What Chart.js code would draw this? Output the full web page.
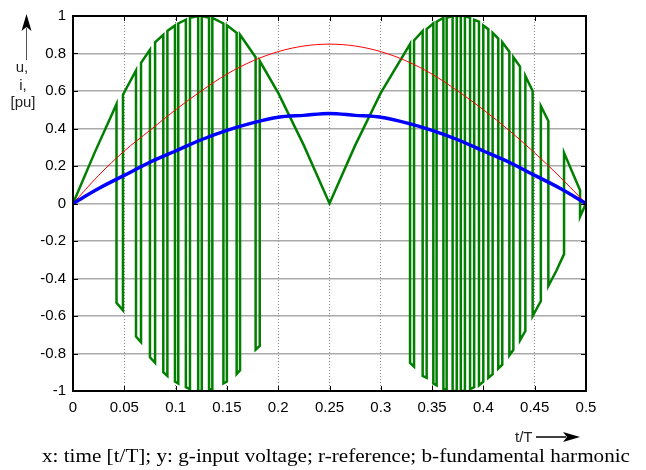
<!DOCTYPE html>
<html>
  <head>
    <script src="https://cdn.jsdelivr.net/npm/chart.js@4"></script>
    <style>
      body { margin: 0; background: #fff; }
    </style>
  </head>

  <body>
    <canvas id="canvas" width="646" height="470"></canvas>
    <script>
      // time axis samples for the smooth curves (t/T)
      const tRef = [0, 0.025, 0.05, 0.075, 0.1, 0.125, 0.15, 0.175, 0.2, 0.225, 0.25,
        0.275, 0.3, 0.325, 0.35, 0.375, 0.4, 0.425, 0.45, 0.475, 0.5];
      // r: reference
      const refV = [0, 0.15, 0.28, 0.39, 0.5, 0.6, 0.69, 0.76, 0.81, 0.84, 0.85,
        0.84, 0.81, 0.76, 0.69, 0.6, 0.5, 0.39, 0.27, 0.14, 0];
      // b: fundamental harmonic
      const fundV = [0, 0.08, 0.15, 0.22, 0.28, 0.34, 0.39, 0.43, 0.46, 0.47, 0.48,
        0.47, 0.46, 0.43, 0.39, 0.34, 0.28, 0.22, 0.15, 0.08, 0];

      // g: input voltage, switching instants and levels
      const greenT = [0, 0.021, 0.0424, 0.0424, 0.0487, 0.0487, 0.0614, 0.0614, 0.0663, 0.0663,
        0.075, 0.075, 0.08, 0.08, 0.088, 0.088, 0.092, 0.092, 0.0994, 0.0994,
        0.1026, 0.1026, 0.11, 0.11, 0.114, 0.114, 0.122, 0.122, 0.1255, 0.1255,
        0.1326, 0.1326, 0.1358, 0.1358, 0.1466, 0.1466, 0.15, 0.15, 0.1595, 0.1595,
        0.1628, 0.1628, 0.178, 0.178, 0.182, 0.182, 0.2, 0.225, 0.25, 0.275, 0.3,
        0.3285, 0.3285, 0.3324, 0.3324, 0.3408, 0.3408, 0.3447, 0.3447, 0.3512, 0.3512,
        0.3544, 0.3544, 0.361, 0.361, 0.3642, 0.3642, 0.37, 0.37, 0.374, 0.374,
        0.378, 0.378, 0.382, 0.382, 0.387, 0.387, 0.391, 0.391, 0.3957, 0.3957,
        0.3999, 0.3999, 0.4048, 0.4048, 0.409, 0.409, 0.4145, 0.4145, 0.4184, 0.4184,
        0.4253, 0.4253, 0.4292, 0.4292, 0.4357, 0.4357, 0.4409, 0.4409, 0.448, 0.448,
        0.456, 0.456, 0.4633, 0.4633, 0.471, 0.4786, 0.4786, 0.4942, 0.4942, 0.5];
      const greenV = [0, 0.27, 0.53, -0.53, -0.57, 0.58, 0.71, -0.71, -0.74, 0.75,
        0.82, -0.82, -0.85, 0.86, 0.9, -0.9, -0.92, 0.92, 0.95, -0.95,
        -0.96, 0.96, 0.98, -0.98, -0.99, 0.99, 1, -1, -1, 1,
        0.99, -0.99, -0.99, 0.99, 0.96, -0.96, -0.95, 0.95, 0.91, -0.91,
        -0.89, 0.9, 0.78, -0.78, -0.76, 0.76, 0.59, 0.31, 0, 0.31, 0.59,
        0.85, -0.85, -0.87, 0.87, 0.92, -0.92, -0.93, 0.93, 0.96, -0.96,
        -0.97, 0.97, 0.99, -0.99, -0.99, 0.99, 1, -1, -1, 1,
        1, -1, -1, 1, 0.99, -0.99, -0.98, 0.98, 0.97, -0.97,
        -0.95, 0.95, 0.93, -0.93, -0.91, 0.91, 0.88, -0.88, -0.86, 0.86,
        0.81, -0.81, -0.78, 0.78, 0.73, -0.73, -0.68, 0.68, 0.6, -0.6,
        -0.52, 0.52, 0.44, -0.44, -0.36, -0.27, 0.27, 0.07, -0.07, 0];

      const xTicks = [0, 0.05, 0.1, 0.15, 0.2, 0.25, 0.3, 0.35, 0.4, 0.45, 0.5];
      const xTickLabels = ['0', '0.05', '0.1', '0.15', '0.2', '0.25', '0.3', '0.35', '0.4', '0.45', '0.5'];
      const yTicks = [-1, -0.8, -0.6, -0.4, -0.2, 0, 0.2, 0.4, 0.6, 0.8, 1];
      const yTickLabels = ['-1', '-0.8', '-0.6', '-0.4', '-0.2', '0', '0.2', '0.4', '0.6', '0.8', '1'];

      const caption = 'x: time [t/T]; y: g-input voltage; r-reference; b-fundamental harmonic';

      const zip = (xs, ys) => xs.map((x, i) => ({ x: x, y: ys[i] }));
      const sansFont = { family: "'Liberation Sans', Arial, sans-serif", size: 15 };

      function arrowHead(ctx, x, y, dir) {
        // dir: 'up' or 'right'
        ctx.beginPath();
        if (dir === 'up') {
          ctx.moveTo(x, y);
          ctx.lineTo(x - 5, y + 17);
          ctx.lineTo(x, y + 13);
          ctx.lineTo(x + 5, y + 17);
        } else {
          ctx.moveTo(x, y);
          ctx.lineTo(x - 17, y - 5);
          ctx.lineTo(x - 13, y);
          ctx.lineTo(x - 17, y + 5);
        }
        ctx.closePath();
        ctx.fill();
      }

      // axes box, inward ticks and the free text around the plot
      const frame = {
        id: 'frame',
        afterDraw(chart) {
          const { ctx, chartArea: a, scales } = chart;
          ctx.save();
          ctx.strokeStyle = '#000';
          ctx.lineWidth = 1;
          ctx.beginPath();
          xTicks.forEach((v) => {
            const px = Math.round(scales.x.getPixelForValue(v)) + 0.5;
            ctx.moveTo(px, a.bottom); ctx.lineTo(px, a.bottom - 5);
            ctx.moveTo(px, a.top); ctx.lineTo(px, a.top + 5);
          });
          yTicks.forEach((v) => {
            const py = Math.round(scales.y.getPixelForValue(v)) + 0.5;
            ctx.moveTo(a.left, py); ctx.lineTo(a.left + 5, py);
            ctx.moveTo(a.right, py); ctx.lineTo(a.right - 5, py);
          });
          ctx.stroke();
          ctx.lineWidth = 2;
          ctx.strokeRect(a.left, a.top, a.right - a.left, a.bottom - a.top);

          // y label with arrow
          ctx.fillStyle = '#222';
          ctx.font = "15px 'Liberation Sans', Arial, sans-serif";
          ctx.textAlign = 'center';
          ctx.textBaseline = 'middle';
          ctx.fillText('u,', 22, 68);
          ctx.fillText('i,', 23, 86);
          ctx.fillText('[pu]', 23, 103);
          ctx.strokeStyle = '#555';
          ctx.lineWidth = 1;
          ctx.beginPath();
          ctx.moveTo(26.5, 60); ctx.lineTo(26.5, 28);
          ctx.stroke();
          ctx.fillStyle = '#000';
          arrowHead(ctx, 26.5, 14, 'up');

          // x label with arrow
          ctx.fillStyle = '#222';
          ctx.textAlign = 'left';
          ctx.fillText('t/T', 515, 438);
          ctx.strokeStyle = '#000';
          ctx.lineWidth = 1.5;
          ctx.beginPath();
          ctx.moveTo(536, 437); ctx.lineTo(566, 437);
          ctx.stroke();
          ctx.fillStyle = '#000';
          arrowHead(ctx, 580, 437, 'right');

          // caption, stretched to its printed width
          ctx.fillStyle = '#000';
          ctx.font = "19px 'Liberation Serif', 'Times New Roman', serif";
          ctx.textAlign = 'left';
          ctx.textBaseline = 'alphabetic';
          const w = ctx.measureText(caption).width;
          ctx.translate(42, 462);
          ctx.scale(588 / w, 1);
          ctx.fillText(caption, 0, 0);
          ctx.restore();
        },
      };

      new Chart(document.getElementById('canvas').getContext('2d'), {
        type: 'line',
        data: {
          datasets: [
            {
              label: 'b-fundamental harmonic',
              data: zip(tRef, fundV),
              borderColor: '#0000ff',
              borderWidth: 3.5,
              cubicInterpolationMode: 'monotone',
            },
            {
              label: 'r-reference',
              data: zip(tRef, refV),
              borderColor: '#ff0000',
              borderWidth: 1,
              cubicInterpolationMode: 'monotone',
            },
            {
              label: 'g-input voltage',
              data: zip(greenT, greenV),
              borderColor: '#007f00',
              borderWidth: 2.5,
              tension: 0,
            },
          ],
        },
        options: {
          responsive: false,
          animation: false,
          layout: { padding: { left: 0, top: 11, right: 60, bottom: 0 } },
          elements: { point: { radius: 0 } },
          plugins: {
            legend: { display: false },
            tooltip: { enabled: false },
          },
          scales: {
            x: {
              type: 'linear',
              min: 0,
              max: 0.5,
              afterFit: (s) => { s.height = 79; },
              afterBuildTicks: (s) => { s.ticks = xTicks.map((v) => ({ value: v })); },
              grid: { color: '#8a8a8a', lineWidth: 1, drawTicks: false },
              border: { display: false, dash: [1, 2] },
              ticks: {
                color: '#000',
                font: sansFont,
                padding: 8,
                maxRotation: 0,
                autoSkip: false,
                callback: (v, i) => xTickLabels[i],
              },
            },
            y: {
              type: 'linear',
              min: -1,
              max: 1,
              afterFit: (s) => { s.width = 73; },
              afterBuildTicks: (s) => { s.ticks = yTicks.map((v) => ({ value: v })); },
              grid: { color: '#aaaaaa', lineWidth: 1.5, drawTicks: false },
              border: { display: false },
              ticks: {
                color: '#000',
                font: sansFont,
                padding: 7,
                autoSkip: false,
                callback: (v, i) => yTickLabels[i],
              },
            },
          },
        },
        plugins: [frame],
      });
    </script>
  </body>
</html>
